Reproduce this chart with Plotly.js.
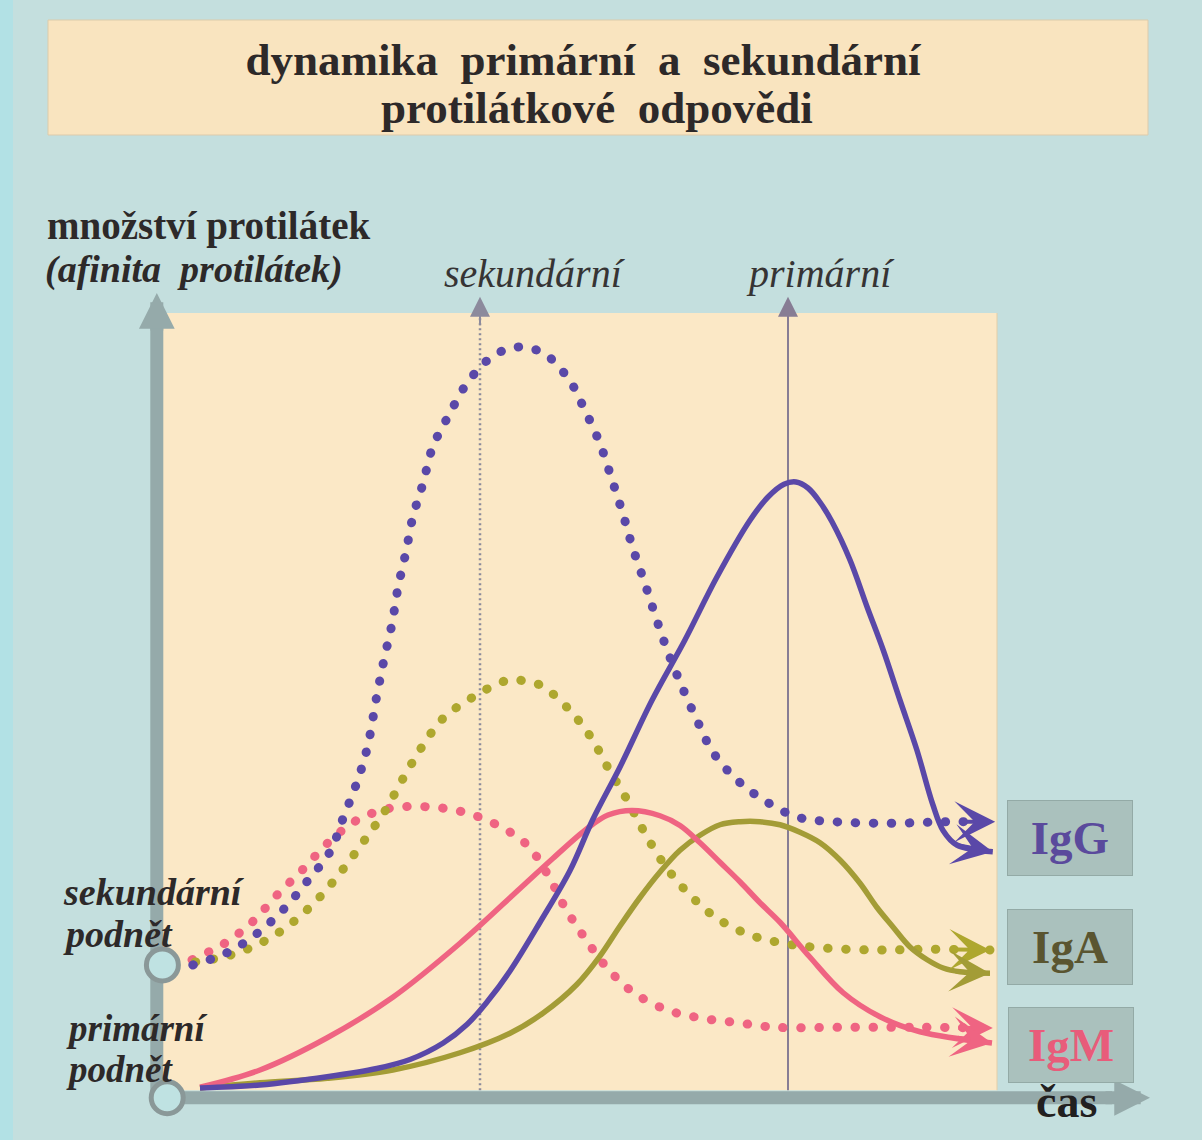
<!DOCTYPE html>
<html><head><meta charset="utf-8">
<script src="https://cdn.plot.ly/plotly-3.0.1.min.js"></script>
<style>html,body{margin:0;padding:0;background:#c4dfde;}</style>
</head><body><div id="chart" style="width:1202px;height:1140px;"></div>
<script>
// ---- data (time in arbitrary units, antibody amount in arbitrary units) ----
const seriesNames = ['IgG', 'IgA', 'IgM'];

// primary response (solid)
const primIgG_t = [0.5,1.25,2.09,2.71,3.125,3.54,3.84,4.09,4.375,4.75,5.125,5.41,5.75,6.15,6.56,6.96,7.375,7.6,7.8,7.95,8.1,8.25,8.4,8.625,8.84,9.04,9.25,9.46,9.66,9.79,9.96,10.41];
const primIgG_a = [0.12,0.16,0.27,0.38,0.5,0.72,0.97,1.27,1.68,2.33,3.02,3.7,4.4,5.29,6.09,6.93,7.69,8.0,8.17,8.2,8.12,7.93,7.67,7.16,6.53,5.96,5.29,4.63,3.9,3.55,3.36,3.27];
const primIgA_t = [0.5,1.25,2.09,2.91,3.75,4.375,4.79,5.21,5.5,5.75,6.0,6.25,6.5,6.75,7.0,7.25,7.5,7.75,8.0,8.25,8.5,8.75,8.96,9.16,9.375,9.59,9.79,10.0,10.375];
const primIgA_a = [0.12,0.19,0.25,0.36,0.59,0.85,1.12,1.5,1.88,2.28,2.66,3.0,3.29,3.49,3.63,3.67,3.67,3.63,3.53,3.39,3.16,2.85,2.53,2.27,2.0,1.83,1.72,1.67,1.65];
const primIgM_t = [0.5,1.25,2.09,2.91,3.75,4.5,4.91,5.34,5.6,5.9,6.25,6.5,6.75,7.0,7.25,7.5,7.75,8.12,8.54,9.0,9.5,10.4];
const primIgM_a = [0.13,0.36,0.79,1.33,2.05,2.78,3.18,3.58,3.76,3.82,3.75,3.62,3.39,3.13,2.87,2.59,2.33,1.87,1.39,1.07,0.87,0.72];

// secondary response (dotted)
const secIgG_t = [0.41,0.85,1.225,1.56,1.85,2.125,2.29,2.46,2.59,2.71,2.8,2.9,2.975,3.075,3.16,3.29,3.41,3.61,3.84,4.15,4.46,4.79,5.11,5.31,5.5,5.65,5.79,5.91,6.06,6.2,6.35,6.525,6.71,6.91,7.21,7.56,7.975,8.44,9.125,9.81,10.44];
const secIgG_a = [1.76,1.93,2.19,2.52,2.89,3.27,3.72,4.19,4.65,5.35,5.83,6.31,6.79,7.27,7.73,8.19,8.67,9.09,9.52,9.87,10.0,9.92,9.57,9.16,8.71,8.23,7.76,7.32,6.85,6.39,5.93,5.47,5.03,4.6,4.23,3.95,3.73,3.67,3.65,3.67,3.67];
const secIgA_t = [0.44,0.875,1.29,1.66,2.0,2.29,2.56,2.81,3.04,3.275,3.54,3.91,4.325,4.55,4.775,5.11,5.39,5.61,5.84,6.06,6.31,6.6,6.94,7.35,7.79,8.25,8.94,9.625,10.375];
const secIgA_a = [1.8,1.89,2.07,2.33,2.67,3.04,3.43,3.81,4.25,4.67,5.05,5.33,5.55,5.55,5.48,5.17,4.79,4.37,3.96,3.52,3.09,2.72,2.4,2.17,2.05,1.99,1.96,1.97,1.96];
const secIgM_t = [0.4,0.81,1.15,1.46,1.79,2.1,2.46,2.875,3.34,3.79,4.21,4.59,4.85,5.06,5.31,5.59,5.91,6.34,6.775,7.225,7.69,8.625,9.5,10.41];
const secIgM_a = [1.83,2.05,2.33,2.69,3.04,3.39,3.69,3.85,3.87,3.8,3.63,3.36,2.96,2.53,2.12,1.72,1.4,1.16,1.05,0.99,0.93,0.93,0.93,0.92];

// reference time markers
const refLineNames = ['sekundární', 'primární'];
const refLineTimes = [4.0, 7.85];
const refLineTop = 10.67;

// stimuli
const stimulusNames = ['primární podnět', 'sekundární podnět'];
const stimulusT = [0.09, 0.03];
const stimulusA = [-0.01, 1.76];

// ---- styling ----
const colIgG = '#5a48a8', colIgA = '#a39c36', colIgAdot = '#aea72e', colIgM = '#ef6482';
const bgBlue = '#c4dfde', beige = '#fbe8c6', titleBeige = '#f9e4bf';
const axisGray = '#95aaaa';
const serif = 'Liberation Serif, Times New Roman, serif';
const textDark = '#2d2929';
const W = 1202, H = 1140;
const PX = x => x / W, PY = y => 1 - y / H;
const XR = [-2, 13.025], YR = [-0.5733, 14.6267];
const sx = W / (XR[1] - XR[0]), sy = H / (YR[1] - YR[0]);

const traces = [];
traces.push({x:[refLineTimes[0], refLineTimes[0]], y:[0.09, refLineTop - 0.2], mode:'lines',
  line:{color:'#8c8a9c', width:2.5, dash:'2px,3px'}, hoverinfo:'skip', showlegend:false, name:refLineNames[0]});
traces.push({x:[refLineTimes[1], refLineTimes[1]], y:[0.09, refLineTop - 0.2], mode:'lines',
  line:{color:'#877d94', width:2}, hoverinfo:'skip', showlegend:false, name:refLineNames[1]});

const DOT = '0.5px,17.5px';
function curve(t, a, color, dotted, name) {
  return {x:t, y:a, mode:'lines', name:name, showlegend:false, hoverinfo:'skip',
    line:{color:color, width: dotted ? 9 : 5.5, shape:'spline', smoothing:1, dash: dotted ? DOT : 'solid'}};
}
traces.push(curve(secIgM_t, secIgM_a, colIgM, true, 'IgM sekundární'));
traces.push(curve(secIgA_t, secIgA_a, colIgAdot, true, 'IgA sekundární'));
traces.push(curve(secIgG_t, secIgG_a, colIgG, true, 'IgG sekundární'));
traces.push(curve(primIgA_t, primIgA_a, colIgA, false, 'IgA primární'));
traces.push(curve(primIgM_t, primIgM_a, colIgM, false, 'IgM primární'));
traces.push(curve(primIgG_t, primIgG_a, colIgG, false, 'IgG primární'));

traces.push({x:stimulusT, y:stimulusA, mode:'markers', hoverinfo:'skip', showlegend:false,
  text:stimulusNames,
  marker:{size:32, color:'#bfe2e2', line:{color:'#8a9898', width:5}}});

function endArrow(t, a, color, back) {
  const n = t.length;
  const dx = (t[n-1] - t[n-2]) * sx, dy = (a[n-1] - a[n-2]) * sy;
  const L = Math.hypot(dx, dy);
  return {x:t[n-1], y:a[n-1], ax:t[n-1] - dx / L * back / sx, ay:a[n-1] - dy / L * back / sy,
    xref:'x', yref:'y', axref:'x', ayref:'y', text:'', showarrow:true,
    arrowhead:3, arrowsize:1.7, arrowwidth:4, arrowcolor:color, standoff:0};
}

function label(x, y, txt, size, color, anchor) {
  return {x:PX(x), y:PY(y), xref:'paper', yref:'paper', text:txt, showarrow:false,
    font:{family:serif, size:size, color:color}, xanchor:anchor || 'left', yanchor:'middle'};
}
function box(x, y, txt, color) {
  return {x:PX(x), y:PY(y), xref:'paper', yref:'paper', text:'<b>' + txt + '</b>', showarrow:false,
    xanchor:'center', yanchor:'middle', font:{family:serif, size:47, color:color},
    width:122, height:72, borderpad:1, bgcolor:'#aac1bd', bordercolor:'#93aaa6', borderwidth:1};
}

const annotations = [
  endArrow(secIgG_t, secIgG_a, colIgG, 36),
  endArrow(primIgG_t, primIgG_a, colIgG, 36),
  endArrow(secIgA_t, secIgA_a, colIgAdot, 36),
  endArrow(primIgA_t, primIgA_a, colIgA, 36),
  endArrow(secIgM_t, secIgM_a, colIgM, 36),
  endArrow(primIgM_t, primIgM_a, colIgM, 36),
  // axis heads
  {x:-0.04, y:10.72, ax:-0.04, ay:10.2, xref:'x', yref:'y', axref:'x', ayref:'y', text:'', showarrow:true,
   arrowhead:2, arrowsize:0.55, arrowwidth:13, arrowcolor:axisGray, standoff:0},
  {x:12.375, y:-0.01, ax:11.8, ay:-0.01, xref:'x', yref:'y', axref:'x', ayref:'y', text:'', showarrow:true,
   arrowhead:2, arrowsize:0.55, arrowwidth:13, arrowcolor:axisGray, standoff:0},
  // reference line heads
  {x:refLineTimes[0], y:refLineTop, ax:refLineTimes[0], ay:refLineTop - 0.4, xref:'x', yref:'y', axref:'x', ayref:'y',
   text:'', showarrow:true, arrowhead:2, arrowsize:2, arrowwidth:2, arrowcolor:'#8c8a9c', standoff:0},
  {x:refLineTimes[1], y:refLineTop, ax:refLineTimes[1], ay:refLineTop - 0.4, xref:'x', yref:'y', axref:'x', ayref:'y',
   text:'', showarrow:true, arrowhead:2, arrowsize:2, arrowwidth:2, arrowcolor:'#877d94', standoff:0},
  // title second line
  label(597, 108, '<b>protilátkové\u00a0 odpovědi</b>', 45, textDark, 'center'),
  // labels
  label(535, 274, '<i>' + refLineNames[0] + '</i>', 40, '#363434', 'center'),
  label(821, 274, '<i>' + refLineNames[1] + '</i>', 40, '#363434', 'center'),
  label(45, 226, '<b>množství protilátek</b>', 39, textDark),
  label(43, 270, '<b><i>(afinita\u00a0 protilátek)</i></b>', 38, textDark),
  label(61, 892, '<b><i>sekundární</i></b>', 38, textDark),
  label(61, 934, '<b><i>podnět</i></b>', 38, textDark),
  label(64, 1028, '<b><i>primární</i></b>', 37, textDark),
  label(64, 1069, '<b><i>podnět</i></b>', 37, textDark),
  label(1066, 1101, '<b>čas</b>', 46, '#222020', 'center'),
  // series boxes
  box(1070, 838, seriesNames[0], '#5a4a9c'),
  box(1070, 947, seriesNames[1], '#5a5530'),
  box(1071, 1045, seriesNames[2], '#e85c7a')
];

const shapes = [
  {type:'rect', xref:'paper', yref:'paper', x0:0, x1:PX(13), y0:0, y1:1, fillcolor:'#b2e1e5', line:{width:0}, layer:'below'},
  {type:'rect', xref:'paper', yref:'paper', x0:PX(48), x1:PX(1148), y0:PY(135), y1:PY(20), fillcolor:titleBeige,
   line:{color:'#dccbab', width:1}, layer:'below'},
  {type:'rect', xref:'x', yref:'y', x0:0.0375, x1:10.4625, y0:0.09, y1:10.453, fillcolor:beige, line:{width:0}, layer:'below'},
  {type:'line', xref:'x', yref:'y', x0:10.4625, x1:10.4625, y0:0.09, y1:10.453, line:{color:'#e2cfa8', width:1}, layer:'below'},
  {type:'line', xref:'x', yref:'y', x0:-0.04, x1:-0.04, y0:-0.01, y1:10.3, line:{color:axisGray, width:13}, layer:'below'},
  {type:'line', xref:'x', yref:'y', x0:-0.04, x1:11.9, y0:-0.01, y1:-0.01, line:{color:axisGray, width:13}, layer:'below'}
];

const layout = {
  width:W, height:H, margin:{l:0, r:0, t:0, b:0, pad:0},
  paper_bgcolor:bgBlue, plot_bgcolor:'rgba(0,0,0,0)', showlegend:false,
  title:{text:'<b>dynamika\u00a0 primární\u00a0 a\u00a0 sekundární</b>',
    font:{family:serif, size:45, color:textDark}, x:PX(583), xanchor:'center', xref:'container',
    y:PY(59), yanchor:'middle', yref:'container'},
  xaxis:{range:XR, visible:false, fixedrange:true},
  yaxis:{range:YR, visible:false, fixedrange:true},
  shapes:shapes, annotations:annotations
};

Plotly.newPlot('chart', traces, layout, {staticPlot:true, displayModeBar:false}).then(gd => {
  gd.querySelectorAll('path.js-line').forEach(p => {
    const d = p.style.strokeDasharray || p.getAttribute('stroke-dasharray') || '';
    if (d.indexOf('17') >= 0) { p.style.strokeLinecap = 'round'; }
  });
});
</script></body></html>
